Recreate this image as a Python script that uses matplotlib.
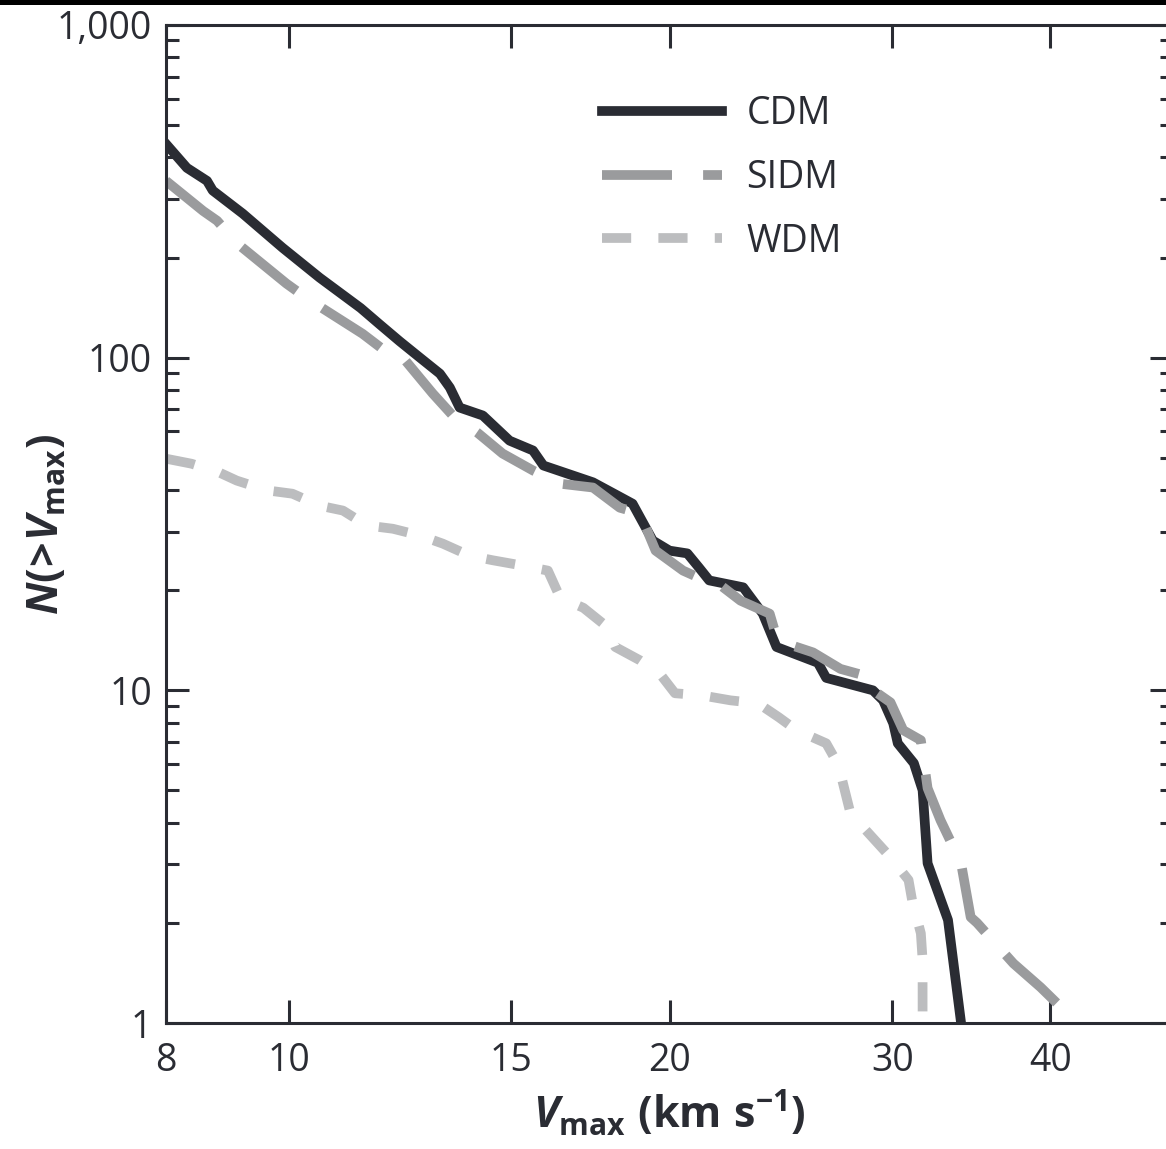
import matplotlib
matplotlib.use("Agg")
import matplotlib.pyplot as plt
from matplotlib.ticker import FixedLocator, FuncFormatter, LogLocator, NullLocator, NullFormatter
from matplotlib.patches import Rectangle

# ---------------- data ----------------
cdm_v = [8.0, 8.31, 8.62, 8.71, 9.2, 9.89, 10.58, 11.4, 11.8, 12.24, 12.7, 13.17, 13.41,
         13.65, 14.24, 14.95, 15.6, 15.9, 17.4, 18.06, 18.7, 19.4, 20.0, 20.66, 21.1, 21.5,
         22.87, 23.7, 24.3, 26.2, 26.6, 28.96, 29.5, 30.05, 30.3, 31.2, 31.7, 31.99, 33.2, 34.0]
cdm_n = [439, 372, 340, 318, 271, 214, 174, 141, 126, 112, 100, 89.5, 81.3,
         70.8, 67, 56.3, 52.6, 47.4, 42.2, 39.1, 36.4, 28.2, 26.3, 25.8, 23.4, 21.4,
         20.4, 17.0, 13.5, 12.1, 10.9, 10.0, 9.33, 7.96, 6.93, 6.04, 5.01, 3.02, 2.04, 1.0]

sidm_v = [8.0, 8.56, 8.78, 9.1, 9.96, 10.36, 11.44, 11.97, 12.24, 13.0, 13.48, 14.1, 14.76,
          15.6, 16.39, 17.4, 18.27, 18.96, 19.5, 20.5, 21.1, 21.8, 22.76, 24.0, 24.35, 25.97,
          27.3, 28.96, 29.2, 29.9, 30.6, 31.6, 31.99, 32.75, 34.0, 34.6, 35.0, 37.4, 39.3, 42.0]
sidm_n = [340, 276, 258, 221, 167, 150, 118, 103.5, 102.8, 78, 67, 59.5, 51.5,
          45.8, 41.8, 40.7, 35.4, 34, 26.3, 22.9, 21.8, 21.1, 18.6, 17.0, 14.1, 13.0,
          11.6, 10.9, 9.8, 9.2, 7.59, 7.08, 5.08, 4.07, 3.02, 2.08, 2.0, 1.51, 1.28, 1.0]

wdm_v = [8.0, 8.38, 8.81, 9.1, 9.62, 10.07, 10.58, 11.04, 11.53, 12.09, 12.7, 13.24, 13.9,
         14.5, 15.32, 16.03, 16.39, 17.1, 17.86, 18.12, 18.96, 19.66, 20.2, 21.2, 22.35, 23.5,
         24.4, 25.2, 26.6, 27.2, 27.8, 29.9, 30.9, 31.1, 31.6, 31.7, 31.7]
wdm_n = [49.7, 48.0, 45.2, 42.7, 39.9, 39.0, 35.9, 34.7, 31.3, 30.6, 29.2, 27.6, 25.4,
         24.6, 23.7, 22.9, 19.0, 17.7, 15.5, 13.5, 12.3, 11.2, 9.8, 9.66, 9.33, 9.14,
         8.3, 7.59, 6.93, 5.96, 4.27, 3.15, 2.69, 2.34, 1.86, 1.55, 1.0]

series_labels = ["CDM", "SIDM", "WDM"]
x_ticks = [8, 10, 15, 20, 30, 40]
y_ticks = [1, 10, 100, 1000]

# ---------------- style ----------------
DARK = "#2a2c33"
plt.rcParams["font.family"] = ["Open Sans", "DejaVu Sans"]
plt.rcParams["mathtext.fontset"] = "custom"
plt.rcParams["mathtext.rm"] = "Open Sans"
plt.rcParams["mathtext.bf"] = "Open Sans:bold"
plt.rcParams["mathtext.it"] = "Open Sans:italic"
plt.rcParams["mathtext.bfit"] = "Open Sans:bold:italic"

fig = plt.figure(figsize=(11.66, 11.49), dpi=100)
ax = fig.add_axes([166 / 1166, 126 / 1149, 1007 / 1166, 998 / 1149])

ax.plot(cdm_v, cdm_n, color=DARK, lw=7, solid_joinstyle="round", label=series_labels[0])
ax.plot(sidm_v, sidm_n, color="#9a9b9d", lw=7, linestyle=(0, (7.2, 3.2)),
        label=series_labels[1])
ax.plot(wdm_v, wdm_n, color="#bcbdbf", lw=7, linestyle=(0, (3.0, 2.8)),
        label=series_labels[2])

ax.set_xscale("log")
ax.set_yscale("log")
ax.set_xlim(8, 50)
ax.set_ylim(1, 1000)

ax.xaxis.set_major_locator(FixedLocator(x_ticks))
ax.xaxis.set_major_formatter(FuncFormatter(lambda v, p: f"{v:g}"))
ax.xaxis.set_minor_locator(NullLocator())
ax.xaxis.set_minor_formatter(NullFormatter())
ax.yaxis.set_major_locator(FixedLocator(y_ticks))
ax.yaxis.set_major_formatter(FuncFormatter(lambda v, p: f"{v:,.0f}"))
ax.yaxis.set_minor_locator(LogLocator(base=10, subs=range(2, 10)))
ax.yaxis.set_minor_formatter(NullFormatter())

for s in ax.spines.values():
    s.set_linewidth(2.2)
    s.set_color(DARK)

ax.tick_params(which="both", direction="in", top=True, right=True, color=DARK,
               width=2.2, labelcolor=DARK, labelsize=27)
ax.tick_params(which="major", length=16.5)
ax.tick_params(which="minor", length=9.4)
ax.tick_params(axis="x", pad=14)
ax.tick_params(axis="y", pad=10)

ax.set_xlabel(r"$\mathbfit{V}_{\mathbf{max}}\ \mathbf{(km\ s^{-1})}$", fontsize=31,
              color=DARK, labelpad=6)
ax.set_ylabel(r"$\mathbfit{N}\mathbf{(\!>\!}\mathbfit{V}_{\mathbf{max}}\mathbf{)}$",
              fontsize=31, color=DARK, labelpad=-9)

leg = ax.legend(loc="upper left", bbox_to_anchor=(0.433, 0.930), frameon=False,
                fontsize=27, handlelength=3.2, handletextpad=0.65, labelspacing=0.69,
                borderpad=0, borderaxespad=0)
for t in leg.get_texts():
    t.set_color(DARK)

fig.add_artist(Rectangle((0, 1 - 5 / 1149), 1, 5 / 1149, transform=fig.transFigure,
                         color="black", lw=0))

fig.savefig("out.png", dpi=100)
